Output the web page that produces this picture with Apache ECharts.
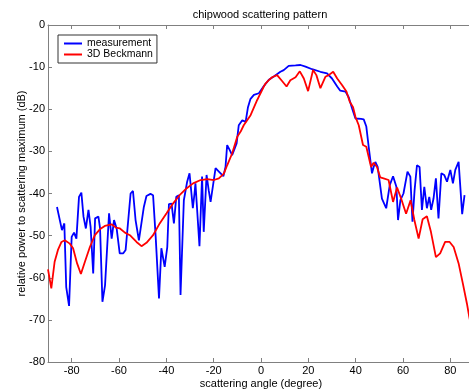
<!DOCTYPE html>
<html>
<head>
<meta charset="utf-8">
<script src="https://cdn.jsdelivr.net/npm/echarts@6/dist/echarts.min.js"></script>
<style>
  html, body {margin: 0; padding: 0; background: #fff; overflow: hidden;}
  #main {width: 474px; height: 390px;}
</style>
</head>
<body>
<div id="main"></div>
<script>
const xTicks = [-80, -60, -40, -20, 0, 20, 40, 60, 80];
const yTicks = [0, -10, -20, -30, -40, -50, -60, -70, -80];

const measAngle = [
  -86.2, -84.1, -83.1, -82.3, -81.1, -80.0, -79.0, -78.0, -76.9, -75.9,
  -75.0, -74.0, -72.9, -72.0, -70.9, -70.1, -68.7, -68.0, -67.0, -65.9,
  -64.2, -63.1, -62.1, -61.0, -59.7, -58.2, -57.2, -55.1, -54.1, -53.0,
  -51.6, -50.9, -49.5, -48.4, -46.7, -45.6, -44.5, -43.1, -42.1, -40.7,
  -39.6, -38.9, -37.8, -36.8, -35.8, -34.7, -34.0, -32.6, -31.2, -30.2,
  -28.8, -28.1, -27.7, -26.0, -24.9, -24.2, -23.0, -22.1, -21.3, -19.2,
  -17.8, -15.9, -15.0, -14.3, -13.2, -12.2, -11.5, -10.3, -9.4, -7.9,
  -6.5, -5.5, -4.5, -3.0, -0.9, 1.2, 3.3, 5.4, 8.2, 9.6,
  11.7, 14.6, 16.7, 18.8, 21.6, 25.1, 27.9, 30.0, 32.2, 33.5,
  35.7, 37.1, 38.5, 39.9, 40.6, 42.3, 43.4, 44.5, 45.5, 46.2,
  46.9, 47.6, 48.3, 49.3, 51.1, 52.9, 54.4, 55.8, 57.2, 57.9,
  58.9, 60.2, 61.9, 63.1, 64.0, 64.9, 65.9, 67.0, 68.0, 69.0,
  70.1, 71.1, 71.9, 72.9, 73.9, 75.0, 76.2, 77.4, 78.6, 80.0,
  81.1, 82.1, 83.5, 84.2, 85.0, 86.0
];
const measDb = [
  -43.2, -48.7, -47.1, -62.2, -66.7, -50.3, -49.3, -50.7, -40.8, -39.8,
  -45.5, -48.3, -43.9, -47.9, -59.0, -45.9, -45.5, -48.3, -65.7, -61.8,
  -44.7, -50.7, -46.3, -48.3, -54.2, -54.2, -53.4, -40.0, -39.4, -46.3,
  -51.1, -51.5, -43.2, -40.6, -40.1, -40.4, -50.3, -64.9, -53.0, -57.4,
  -52.7, -42.5, -42.4, -47.1, -40.8, -40.4, -64.1, -41.6, -37.2, -35.2,
  -43.5, -40.0, -37.6, -52.5, -36.0, -49.1, -35.6, -39.2, -42.0, -34.0,
  -34.8, -35.9, -33.7, -28.5, -29.7, -30.9, -31.3, -28.1, -23.8, -22.6,
  -23.0, -19.5, -17.6, -16.6, -16.2, -14.5, -13.0, -12.2, -11.1, -10.7,
  -9.7, -9.6, -9.5, -9.9, -10.5, -11.1, -11.5, -12.7, -14.6, -15.6,
  -15.8, -17.2, -19.8, -22.2, -22.6, -22.3, -22.4, -24.1, -28.9, -32.1,
  -35.2, -33.7, -32.5, -33.7, -41.2, -43.5, -38.0, -35.9, -38.4, -46.3,
  -41.6, -40.0, -34.8, -36.0, -46.7, -39.2, -33.3, -33.7, -43.9, -38.4,
  -43.5, -40.8, -43.9, -41.2, -36.4, -45.9, -35.2, -35.6, -37.2, -34.4,
  -37.6, -34.4, -32.5, -32.8, -44.9, -40.4
];

const beckAngle = [
  -90.0, -88.6, -87.2, -85.8, -84.3, -82.9, -80.8, -79.4, -77.7, -76.1,
  -74.4, -72.3, -70.2, -68.1, -66.0, -63.1, -61.3, -59.6, -57.5, -55.4,
  -52.6, -50.5, -48.4, -45.6, -42.8, -39.9, -37.2, -34.4, -31.5, -28.7,
  -25.5, -22.7, -19.9, -17.8, -15.7, -14.3, -12.2, -10.0, -8.6, -7.3,
  -6.5, -4.4, -3.7, -1.6, -0.9, 1.2, 1.9, 3.3, 4.7, 5.4,
  6.8, 7.5, 8.9, 10.8, 12.4, 14.6, 16.4, 18.1, 19.9, 22.0,
  23.4, 25.1, 27.2, 28.6, 30.5, 32.2, 34.3, 36.1, 37.5, 38.9,
  39.9, 41.3, 43.1, 44.5, 46.5, 47.6, 49.0, 50.4, 51.8, 53.9,
  55.8, 57.5, 59.2, 61.3, 63.2, 64.8, 66.6, 68.3, 70.1, 71.8,
  73.9, 75.7, 77.8, 79.7, 81.4, 83.5, 85.3, 87.0, 88.0, 89.0
];
const beckDb = [
  -58.0, -62.5, -56.2, -53.4, -51.5, -51.1, -51.9, -53.0, -56.6, -59.1,
  -56.2, -52.7, -49.9, -48.5, -47.7, -47.3, -48.1, -48.3, -49.3, -49.9,
  -51.5, -52.5, -51.7, -49.9, -47.1, -44.7, -42.4, -40.4, -38.8, -37.6,
  -36.8, -36.6, -36.8, -36.4, -35.3, -33.3, -30.5, -26.5, -25.3, -23.8,
  -23.4, -21.4, -21.0, -17.8, -17.0, -14.6, -13.9, -13.1, -12.4, -12.3,
  -11.9, -11.6, -13.3, -14.6, -13.1, -12.4, -11.0, -12.7, -15.7, -10.7,
  -11.9, -15.0, -12.3, -11.9, -11.1, -12.7, -14.3, -15.8, -18.2, -19.5,
  -21.8, -23.8, -28.5, -28.9, -33.7, -32.7, -33.7, -36.2, -36.4, -36.8,
  -42.0, -38.6, -41.2, -44.8, -41.6, -46.3, -50.7, -46.1, -45.4, -49.1,
  -55.1, -54.2, -51.5, -51.5, -52.7, -56.6, -61.4, -66.1, -69.3, -72.0
];

const pairs = (xs, ys) => xs.map((x, i) => [x, ys[i]]);

const font = 'Liberation Sans, Arial, sans-serif';
const axisGrey = '#808080';

const myChart = echarts.init(document.getElementById('main'));
myChart.setOption({
  animation: false,
  textStyle: {fontFamily: font},
  title: {
    text: 'chipwood scattering pattern',
    left: 260,
    top: 9,
    padding: 0,
    textAlign: 'center',
    textStyle: {fontSize: 11, fontWeight: 'normal', color: '#000', fontFamily: font}
  },
  grid: {left: 48, right: 0, top: 25, bottom: 28, outerBoundsMode: 'none'},
  legend: {
    orient: 'vertical',
    left: 58,
    top: 35,
    padding: [3, 4, 3, 6],
    itemGap: 0,
    itemWidth: 18,
    itemHeight: 2,
    icon: 'rect',
    borderColor: '#333',
    borderWidth: 1,
    textStyle: {fontSize: 10.5, color: '#000', fontFamily: font, lineHeight: 11},
    data: ['measurement', '3D Beckmann']
  },
  xAxis: [{
    type: 'value',
    min: -90,
    max: 90,
    name: 'scattering angle (degree)',
    nameLocation: 'middle',
    nameGap: 16,
    nameMoveOverlap: false,
    nameTextStyle: {fontSize: 11, color: '#000'},
    axisLine: {onZero: false, lineStyle: {color: axisGrey}},
    axisTick: {inside: true, length: 4, lineStyle: {color: axisGrey}, customValues: xTicks},
    axisLabel: {fontSize: 11, color: '#000', margin: 3, customValues: xTicks},
    splitLine: {show: false}
  }, {
    type: 'value',
    position: 'top',
    min: -90,
    max: 90,
    axisLine: {onZero: false, lineStyle: {color: axisGrey}},
    axisTick: {inside: true, length: 4, lineStyle: {color: axisGrey}, customValues: xTicks},
    axisLabel: {show: false},
    splitLine: {show: false}
  }],
  yAxis: {
    type: 'value',
    min: -80,
    max: 0,
    interval: 10,
    name: 'relative power to scattering maximum (dB)',
    nameLocation: 'middle',
    nameGap: 21,
    nameMoveOverlap: false,
    nameTextStyle: {fontSize: 11, color: '#000'},
    axisLine: {show: true, onZero: false, lineStyle: {color: axisGrey}},
    axisTick: {show: true, inside: true, length: 4, lineStyle: {color: axisGrey}},
    axisLabel: {fontSize: 11, color: '#000', margin: 3, customValues: yTicks},
    splitLine: {show: false}
  },
  series: [{
    name: 'measurement',
    type: 'line',
    symbol: 'none',
    color: '#0000ff',
    lineStyle: {width: 1.8, color: '#0000ff'},
    data: pairs(measAngle, measDb)
  }, {
    name: '3D Beckmann',
    type: 'line',
    symbol: 'none',
    color: '#ff0000',
    lineStyle: {width: 1.8, color: '#ff0000'},
    data: pairs(beckAngle, beckDb)
  }]
});
</script>
</body>
</html>
